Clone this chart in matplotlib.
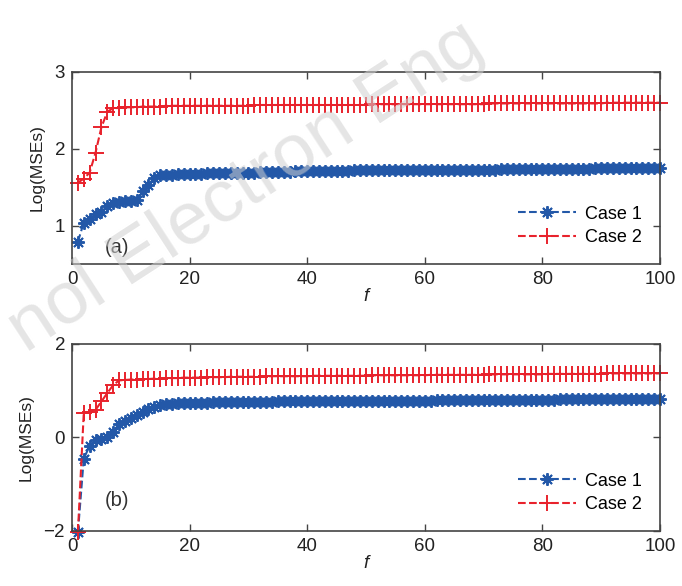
import matplotlib
matplotlib.use("Agg")
import matplotlib.pyplot as plt

f_vals = list(range(1, 101))

case1_a = [0.79, 1.04, 1.08, 1.15, 1.18, 1.25, 1.30, 1.31, 1.32, 1.32,
           1.33, 1.45, 1.53, 1.62, 1.66, 1.66, 1.66, 1.67, 1.67, 1.67,
           1.67, 1.67, 1.68, 1.68, 1.68, 1.68, 1.69, 1.69, 1.69, 1.69,
           1.69, 1.70, 1.70, 1.70, 1.70, 1.70, 1.70, 1.71, 1.71, 1.71,
           1.71, 1.71, 1.71, 1.71, 1.71, 1.71, 1.71, 1.72, 1.72, 1.72,
           1.72, 1.72, 1.72, 1.72, 1.72, 1.72, 1.72, 1.72, 1.73, 1.73,
           1.73, 1.73, 1.73, 1.73, 1.73, 1.73, 1.73, 1.73, 1.73, 1.73,
           1.73, 1.73, 1.74, 1.74, 1.74, 1.74, 1.74, 1.74, 1.74, 1.74,
           1.74, 1.74, 1.74, 1.74, 1.74, 1.74, 1.74, 1.74, 1.75, 1.75,
           1.75, 1.75, 1.75, 1.75, 1.75, 1.75, 1.75, 1.75, 1.75, 1.75]

case2_a = [1.56, 1.61, 1.69, 1.95, 2.28, 2.48, 2.53, 2.53, 2.54, 2.54,
           2.54, 2.55, 2.55, 2.55, 2.55, 2.56, 2.56, 2.56, 2.56, 2.56,
           2.56, 2.56, 2.56, 2.56, 2.56, 2.56, 2.56, 2.56, 2.56, 2.56,
           2.57, 2.57, 2.57, 2.57, 2.57, 2.57, 2.57, 2.57, 2.57, 2.57,
           2.57, 2.57, 2.57, 2.57, 2.57, 2.57, 2.57, 2.57, 2.57, 2.57,
           2.58, 2.58, 2.58, 2.58, 2.58, 2.58, 2.58, 2.58, 2.58, 2.58,
           2.58, 2.58, 2.58, 2.58, 2.58, 2.58, 2.58, 2.58, 2.58, 2.58,
           2.59, 2.59, 2.59, 2.59, 2.59, 2.59, 2.59, 2.59, 2.59, 2.59,
           2.59, 2.59, 2.59, 2.59, 2.59, 2.59, 2.59, 2.59, 2.59, 2.59,
           2.60, 2.60, 2.60, 2.60, 2.60, 2.60, 2.60, 2.60, 2.60, 2.60]

case1_b = [-2.03, -0.45, -0.18, -0.06, -0.03, 0.01, 0.12, 0.28, 0.36, 0.42,
           0.48, 0.55, 0.61, 0.66, 0.70, 0.71, 0.72, 0.73, 0.73, 0.74,
           0.74, 0.74, 0.74, 0.75, 0.75, 0.75, 0.75, 0.75, 0.76, 0.76,
           0.76, 0.76, 0.76, 0.76, 0.77, 0.77, 0.77, 0.77, 0.77, 0.77,
           0.77, 0.77, 0.78, 0.78, 0.78, 0.78, 0.78, 0.78, 0.78, 0.78,
           0.78, 0.79, 0.79, 0.79, 0.79, 0.79, 0.79, 0.79, 0.79, 0.79,
           0.79, 0.80, 0.80, 0.80, 0.80, 0.80, 0.80, 0.80, 0.80, 0.80,
           0.80, 0.81, 0.81, 0.81, 0.81, 0.81, 0.81, 0.81, 0.81, 0.81,
           0.81, 0.81, 0.82, 0.82, 0.82, 0.82, 0.82, 0.82, 0.82, 0.82,
           0.82, 0.82, 0.83, 0.83, 0.83, 0.83, 0.83, 0.83, 0.83, 0.83]

case2_b = [-2.03, 0.53, 0.54, 0.59, 0.77, 0.95, 1.12, 1.22, 1.23, 1.24,
           1.24, 1.25, 1.25, 1.26, 1.26, 1.27, 1.27, 1.27, 1.28, 1.28,
           1.28, 1.28, 1.29, 1.29, 1.29, 1.29, 1.30, 1.30, 1.30, 1.30,
           1.30, 1.30, 1.31, 1.31, 1.31, 1.31, 1.31, 1.31, 1.31, 1.31,
           1.32, 1.32, 1.32, 1.32, 1.32, 1.32, 1.32, 1.32, 1.32, 1.32,
           1.33, 1.33, 1.33, 1.33, 1.33, 1.33, 1.33, 1.33, 1.33, 1.33,
           1.34, 1.34, 1.34, 1.34, 1.34, 1.34, 1.34, 1.34, 1.34, 1.34,
           1.35, 1.35, 1.35, 1.35, 1.35, 1.35, 1.35, 1.35, 1.35, 1.35,
           1.36, 1.36, 1.36, 1.36, 1.36, 1.36, 1.36, 1.36, 1.36, 1.36,
           1.37, 1.37, 1.37, 1.37, 1.37, 1.37, 1.37, 1.37, 1.37, 1.37]

series_labels = ["Case 1", "Case 2"]
panel_labels = ["(a)", "(b)"]
x_ticks = [0, 20, 40, 60, 80, 100]
y_ticks_a = [1, 2, 3]
y_ticks_b = [-2, 0, 2]

blue = "#2358a8"
red = "#e8222c"
asterisk = (8, 2, 0)

plt.rcParams["font.family"] = ["Liberation Sans", "DejaVu Sans"]

fig = plt.figure(figsize=(6.82, 5.86), dpi=100)
ax_a = fig.add_axes([0.1056, 0.5495, 0.862, 0.3277])
ax_b = fig.add_axes([0.1056, 0.0939, 0.862, 0.3191])

panels = [
    (ax_a, case1_a, case2_a, (0.5, 3), y_ticks_a, panel_labels[0], 0.72),
    (ax_b, case1_b, case2_b, (-2, 2), y_ticks_b, panel_labels[1], -1.35),
]

for ax, c1, c2, ylim, yt, plabel, py in panels:
    ax.plot(f_vals, c1, linestyle="--", color=blue, marker=asterisk,
            markersize=9, markeredgewidth=1.4, linewidth=1.5,
            label=series_labels[0], clip_on=False)
    ax.plot(f_vals, c2, linestyle="--", color=red, marker="+", markersize=11,
            markeredgewidth=1.4, linewidth=1.5, label=series_labels[1],
            clip_on=False)
    ax.set_xlim(0, 100)
    ax.set_ylim(*ylim)
    ax.set_xticks(x_ticks)
    ax.set_yticks(yt)
    ax.tick_params(direction="in", top=True, right=True, labelsize=13.5,
                   length=5, width=1, colors="#444444", labelcolor="#222222",
                   pad=5)
    for sp in ax.spines.values():
        sp.set_linewidth(1.2)
        sp.set_color("#444444")
    ax.set_ylabel("Log(MSEs)", fontsize=12.5, color="#222222", labelpad=7)
    ax.set_xlabel("f", fontsize=13.5, style="italic", color="#222222",
                  labelpad=0)
    ax.text(5.5, py, plabel, fontsize=14.5, color="#333333", va="center")
    ax.legend(loc="lower right", frameon=False, fontsize=13,
              handlelength=3.2, borderaxespad=0.6, labelspacing=0.35,
              handletextpad=0.5)

fig.text(0.36, 0.68, "nol Electron Eng", fontsize=54, color="#d0d0d0",
         alpha=0.55, rotation=33, ha="center", va="center", zorder=10)

fig.savefig("out.png", dpi=100)
